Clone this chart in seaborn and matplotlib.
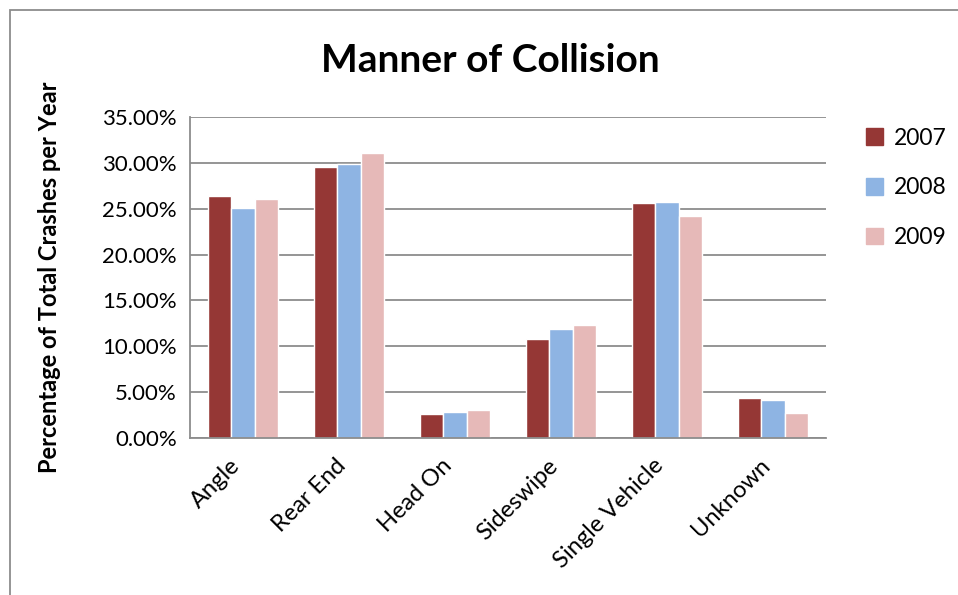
import matplotlib
matplotlib.use("Agg")
import matplotlib.pyplot as plt
import matplotlib.patches as mpatches
import matplotlib.transforms as mtransforms
import numpy as np
import pandas as pd
import seaborn as sns
from matplotlib.ticker import FuncFormatter, MultipleLocator, FixedLocator

# Share of total crashes per year, by manner of collision
categories = ["Angle", "Rear End", "Head On", "Sideswipe", "Single Vehicle", "Unknown"]
years = ["2007", "2008", "2009"]
pct_2007 = [26.4, 29.6, 2.6, 10.8, 25.6, 4.4]
pct_2008 = [25.1, 29.9, 2.8, 11.9, 25.7, 4.1]
pct_2009 = [26.1, 31.1, 3.0, 12.3, 24.2, 2.7]

colors = ["#953735", "#8EB4E3", "#E6B9B8"]

df = pd.DataFrame({
    "category": categories * 3,
    "year": [y for y in years for _ in categories],
    "pct": pct_2007 + pct_2008 + pct_2009,
})

sns.set_style("white")
plt.rcParams["font.family"] = ["Lato", "DejaVu Sans"]
plt.rcParams["text.color"] = "black"
plt.rcParams["xtick.color"] = "black"
plt.rcParams["ytick.color"] = "black"
plt.rcParams["axes.labelcolor"] = "black"

fig = plt.figure(figsize=(9.58, 5.95), dpi=100)
ax = fig.add_axes([190 / 958, 1 - 438 / 595, 636 / 958, 321 / 595])

sns.barplot(data=df, x="category", y="pct", hue="year", palette=colors,
            width=0.667, gap=0, saturation=1, ax=ax, legend=False)

ax.set_ylim(0, 35)
ax.set_xlim(-0.5, 5.5)
ax.yaxis.set_major_locator(MultipleLocator(5))
ax.yaxis.set_major_formatter(FuncFormatter(lambda v, p: f"{v:.2f}%"))
ax.grid(axis="y", color="#8c8c8c", linewidth=1.3)
ax.set_axisbelow(True)

for s in ["top", "right"]:
    ax.spines[s].set_visible(False)
for s in ["left", "bottom"]:
    ax.spines[s].set_color("#8c8c8c")
    ax.spines[s].set_linewidth(1.3)

ax.xaxis.set_minor_locator(FixedLocator(np.arange(-0.5, 6, 1)))
ax.tick_params(axis="x", which="major", length=0, pad=8)
ax.tick_params(axis="x", which="minor", length=7, color="#8c8c8c", width=1.3)
ax.tick_params(axis="y", length=6, color="#8c8c8c", labelcolor="black", width=1.3,
               labelsize=16)
ax.set_xticks(range(len(categories)))
ax.set_xticklabels(categories, rotation=45, ha="right", rotation_mode="anchor",
                   fontsize=17)
shift = mtransforms.ScaledTranslation(-0.14, -0.06, fig.dpi_scale_trans)
for lab in ax.get_xticklabels():
    lab.set_transform(lab.get_transform() + shift)

ax.set_xlabel("")
ax.set_ylabel("Percentage of Total Crashes per Year", fontsize=17,
              fontweight="bold", labelpad=30)

fig.text(490 / 958, 1 - 60 / 595, "Manner of Collision", fontsize=28,
         fontweight="bold", ha="center", va="center")

handles = [mpatches.Patch(color=c, label=y) for c, y in zip(colors, years)]
fig.legend(handles=handles, loc="upper left", bbox_to_anchor=(845 / 958, 1 - 107 / 595),
           frameon=False, fontsize=16.5, handlelength=0.75, handleheight=0.75,
           labelspacing=1.25, handletextpad=0.5)

# chart area border
fig.patches.append(mpatches.Rectangle((10 / 958, -0.05), 1.1, 1 - 10 / 595 + 0.05,
                                      transform=fig.transFigure, fill=False,
                                      edgecolor="#8c8c8c", linewidth=1.3))

fig.savefig("out.png", dpi=100)
